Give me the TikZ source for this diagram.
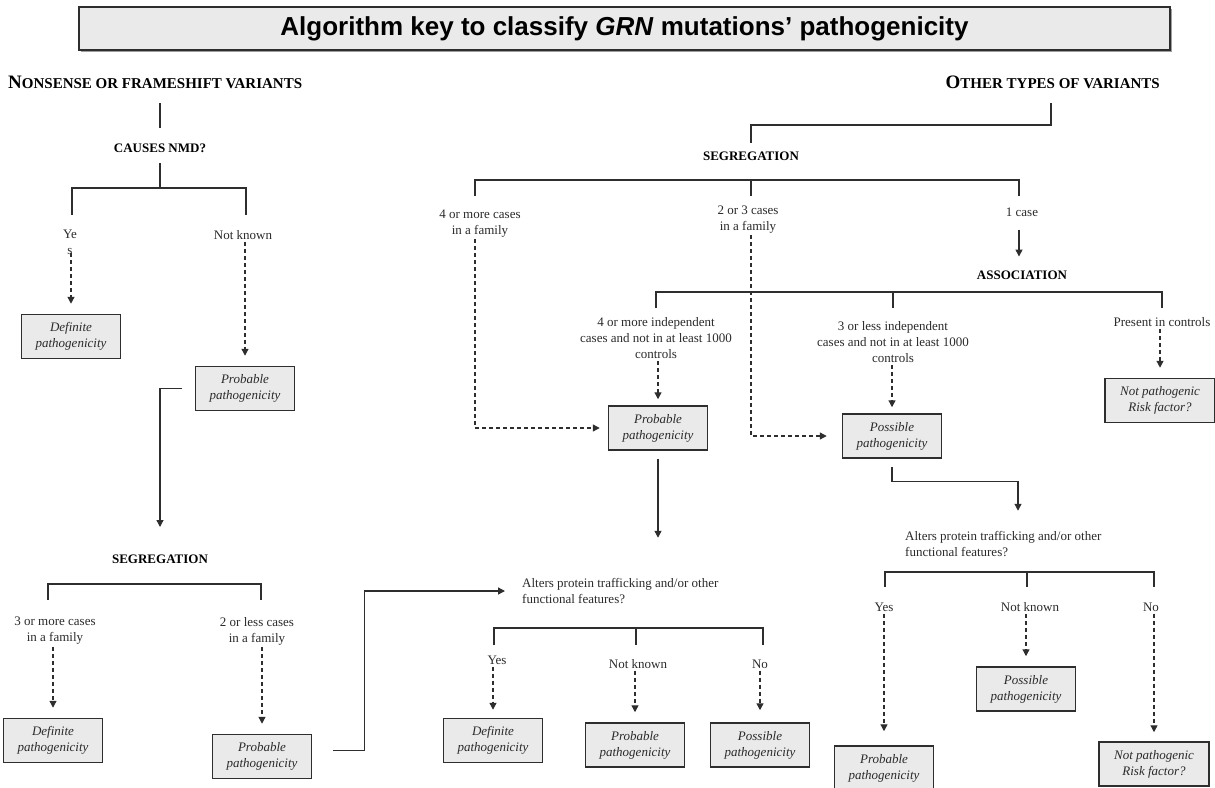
\documentclass[tikz,border=0pt]{standalone}
\usepackage{fontspec}
\setmainfont{Liberation Serif}
\newfontfamily\titlefont{Liberation Sans}
\usetikzlibrary{arrows.meta,positioning}
\definecolor{boxgray}{HTML}{EAEAEA}
\definecolor{linegray}{HTML}{2E2E2E}
\definecolor{textgray}{HTML}{2A2A2A}
\newcommand\hdrcaps[2]{{\fontsize{19}{19}\selectfont #1}{\fontsize{15}{15}\selectfont #2}}
\tikzset{
  every node/.style={font=\fontsize{13}{16}\selectfont, text=textgray, inner sep=2pt},
  outcome/.style={draw=linegray, line width=1.5pt, fill=boxgray, minimum width=99pt,
    minimum height=44pt, align=center, font=\fontsize{13}{16}\selectfont\itshape},
  wideoutcome/.style={outcome, minimum width=110pt},
  branch/.style={align=center},
  heading/.style={font=\fontsize{13}{16}\selectfont\bfseries, text=black},
  link/.style={draw=linegray, line width=1.3pt},
  solidarrow/.style={link, -{Triangle[width=7pt,length=7pt]}},
  dasharrow/.style={solidarrow, dash pattern=on 4pt off 3pt, shorten >=10pt},
}
\begin{document}
\begin{tikzpicture}[x=1pt, y=-1pt]
\useasboundingbox (0,0) rectangle (1215,787);
\clip (0,0) rectangle (1215,787);

% titel
\fill[gray!75] (81,9) rectangle (1172,52);
\node[draw=linegray, line width=1.5pt, fill=boxgray, minimum width=1091pt, minimum height=43pt,
  font=\titlefont\fontsize{26}{30}\selectfont\bfseries, text=black] (title) at (624.5,28.5)
  {Algorithm key to classify \textit{GRN} mutations’ pathogenicity};

% kopjes
\node[heading, inner sep=0pt, anchor=west] (nonsense) at (8,82) {\hdrcaps{N}{ONSENSE OR FRAMESHIFT VARIANTS}};
\node[heading, inner sep=0pt, anchor=east] (other) at (1160,82) {\hdrcaps{O}{THER TYPES OF VARIANTS}};

% ---- links: nonsense / frameshift ----
\draw[link] (160,103) -- (160,128);
\node[heading] (nmd) at (160,148) {CAUSES NMD?};
\draw[link] (160,163) -- (160,188);
\draw[link] (72,215) -- (72,188) -- (246,188) -- (246,215);
\node[branch] (yesA) at (70,242.5) {Ye\\s};
\node[branch] (nkA) at (243,235) {Not known};
\node[outcome] (defA) at (71,336.5) {Definite\\pathogenicity};
\node[outcome] (probA) at (245,388.5) {Probable\\pathogenicity};
\draw[dasharrow] (defA.north |- yesA.south) ++(0,-4) -- (defA.north);
\draw[dasharrow] (probA.north |- nkA.south) -- (probA.north);

\coordinate (segAin) at (160,527);
\draw[solidarrow] ([xshift=-13pt]probA.west) -| (segAin);
\node[heading] (segA) at (160,559) {SEGREGATION};
\draw[link] (48,600) -- (48,584) -- (261,584) -- (261,600);
\node[branch] (moreA) at (55,631) {3 or more cases\\in a family};
\node[branch] (lessA) at (257,631) {2 or less cases\\in a family};
\node[outcome] (defB) at (53,740.5) {Definite\\pathogenicity};
\node[outcome] (probB) at (262,756.5) {Probable\\pathogenicity};
\draw[dasharrow] (defB.north |- moreA.south) -- (defB.north);
\draw[dasharrow] (probB.north |- lessA.south) -- (probB.north);

% ---- rechts: andere varianten ----
\draw[link] (1051,103) -- (1051,125) -- (751,125) -- (751,143);
\node[heading] (segR) at (751,156) {SEGREGATION};
\draw[link] (475,196) -- (475,180) -- (1019,180) -- (1019,196);
\draw[link] (751,180) -- (751,196);
\coordinate (dFour) at (475,196);
\coordinate (dTwo) at (751,196);
\coordinate (dOne) at (1019,196);
\node[branch] (fourF) at (480,223.5) {4 or more cases\\in a family};
\node[branch] (twoF) at (748,219.5) {2 or 3 cases\\in a family};
\node[branch] (oneF) at (1022,212) {1 case};
\draw[solidarrow] (oneF.south -| dOne) ++(0,11) -- ++(0,27);
\node[heading] (assoc) at (1022,275) {ASSOCIATION};
\draw[link] (656,308) -- (656,292) -- (1162,292) -- (1162,308);
\draw[link] (893,292) -- (893,308);
\node[branch] (fourI) at (656,338) {4 or more independent\\cases and not in at least 1000\\controls};
\node[branch] (threeI) at (893,342) {3 or less independent\\cases and not in at least 1000\\controls};
\node[branch] (presC) at (1162,322) {Present in controls};

\node[outcome] (probM) at (658,428) {Probable\\pathogenicity};
\node[outcome] (possR) at (892,436) {Possible\\pathogenicity};
\node[wideoutcome] (notpR) at (1160,400.5) {Not pathogenic\\Risk factor?};
\draw[dasharrow, shorten >=6pt] (probM.north |- fourI.south) -- (probM.north);
\draw[dasharrow, shorten >=6pt] (possR.north |- threeI.south) -- (possR.north);
\draw[dasharrow] (notpR.north |- presC.south) -- (notpR.north);
\draw[dasharrow, shorten >=8pt] (dFour |- fourF.south) |- (probM.west);
\draw[dasharrow, shorten >=15pt] (dTwo |- twoF.south) |- (possR.west);

% midden: eiwit-vraag
\node[branch, align=left, anchor=west] (altM) at (520,591) {Alters protein trafficking and/or other\\functional features?};
\draw[solidarrow] ([yshift=-8pt]probM.south) -- ++(0,79);
\draw[solidarrow] ([xshift=21pt, yshift=6pt]probB.east) -- ++(31,0) |- ([xshift=-15pt]altM.west);
\draw[link] (494,645) -- (494,628) -- (763,628) -- (763,645);
\draw[link] (636,628) -- (636,645);
\node[branch] (yesM) at (497,660) {Yes};
\node[branch] (nkM) at (638,664) {Not known};
\node[branch] (noM) at (760,664) {No};
\node[outcome] (defM) at (493,740.5) {Definite\\pathogenicity};
\node[outcome] (probM2) at (635,745) {Probable\\pathogenicity};
\node[outcome] (possM) at (760,745) {Possible\\pathogenicity};
\draw[dasharrow, shorten >=8pt] (defM.north |- yesM.south) -- (defM.north);
\draw[dasharrow] (probM2.north |- nkM.south) -- (probM2.north);
\draw[dasharrow, shorten >=12pt] (possM.north |- noM.south) -- (possM.north);

% rechts: eiwit-vraag
\node[branch, align=left, anchor=west] (altR) at (903,544) {Alters protein trafficking and/or other\\functional features?};
\draw[solidarrow] ([yshift=-8pt]possR.south) -- ++(0,15) -| ++(126,29);
\draw[link] (885,587) -- (885,572) -- (1154,572) -- (1154,587);
\draw[link] (1027,572) -- (1027,587);
\node[branch] (yesR) at (884,607) {Yes};
\node[branch] (nkR) at (1030,607) {Not known};
\node[branch] (noR) at (1151,607) {No};
\node[outcome] (possR2) at (1026,689) {Possible\\pathogenicity};
\node[outcome] (probR) at (884,768) {Probable\\pathogenicity};
\node[wideoutcome] (notpR2) at (1154,764) {Not pathogenic\\Risk factor?};
\draw[dasharrow, shorten >=14pt] (probR.north |- yesR.south) -- (probR.north);
\draw[dasharrow] (possR2.north |- nkR.south) -- (possR2.north);
\draw[dasharrow, shorten >=9pt] (notpR2.north |- noR.south) -- (notpR2.north);
\end{tikzpicture}
\end{document}
